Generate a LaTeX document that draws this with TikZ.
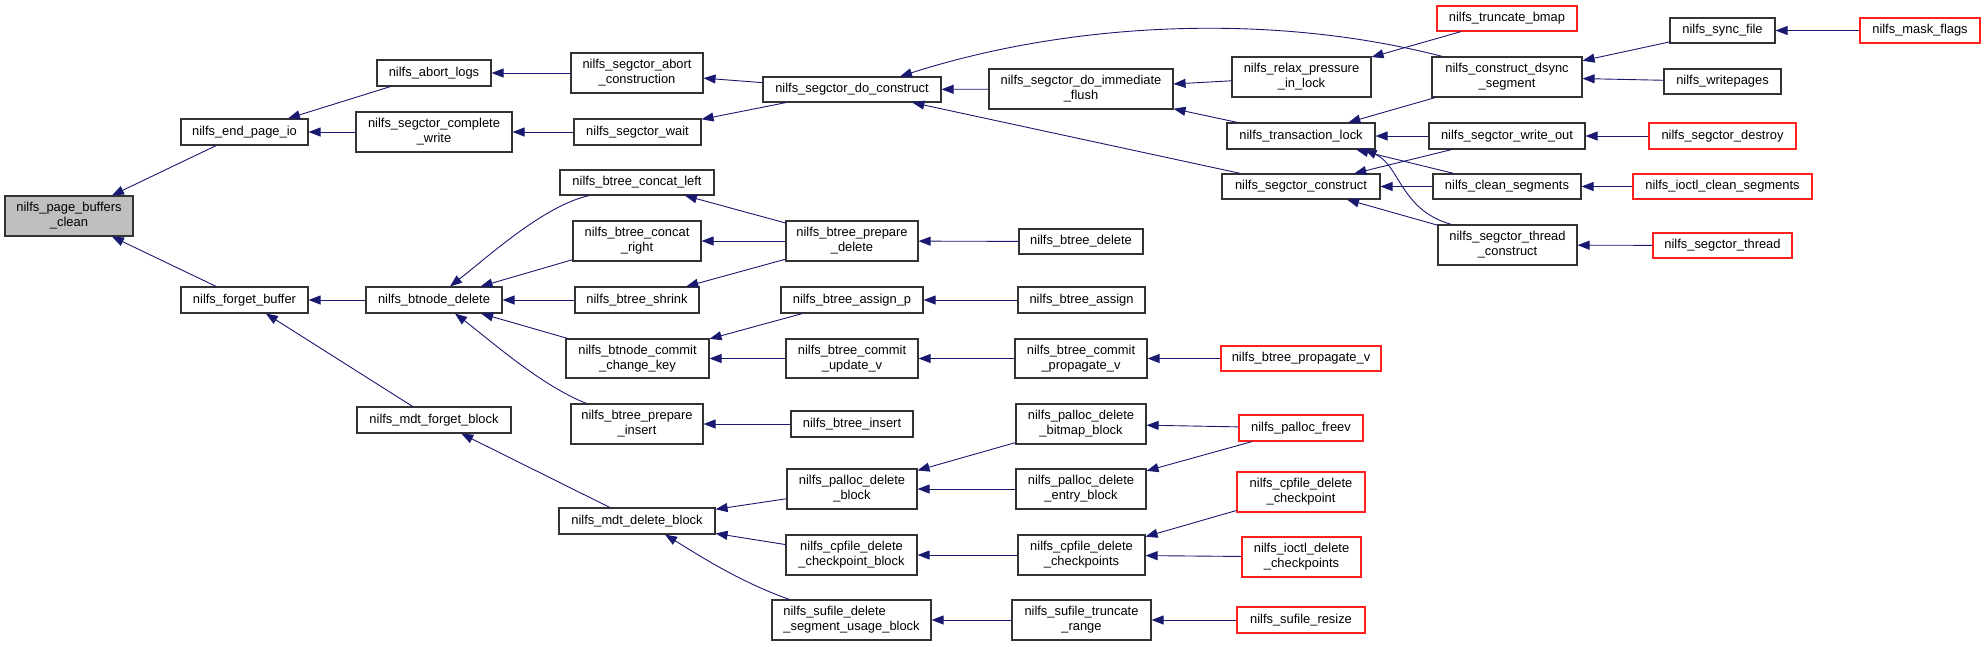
\documentclass[tikz,border=0pt]{standalone}
\usepackage{fontspec}
\setmainfont{Liberation Sans}
\usetikzlibrary{arrows.meta}
\definecolor{edgecol}{HTML}{191970}
\definecolor{boxgray}{HTML}{BFBFBF}
\definecolor{boxline}{HTML}{333333}
\definecolor{boxred}{HTML}{FF2020}
\tikzset{
  fn/.style={draw=boxline, line width=1.1pt, fill=white, inner sep=0pt, align=center,
    font=\fontsize{12.9}{15}\selectfont},
  fnred/.style={fn, draw=boxred},
  fngray/.style={fn, fill=boxgray},
  arr/.style={draw=edgecol, line width=0.9pt, {Triangle[length=12pt,width=9pt]}-},
}
\newcommand\fnode[7]{\node[#1, minimum width={#4-#2}, minimum height={#5-#3}] (#6) at ({(#2+#4)/2},{(#3+#5)/2}) {#7};}
\begin{document}
\begin{tikzpicture}[x=1pt,y=-1pt]
\useasboundingbox (0,0) rectangle (1985,646);
% column 0-1
\fnode{fngray}{5}{196}{133}{236}{pbc}{nilfs\_page\_buffers\\\_clean}
\fnode{fn}{181}{119}{308}{145}{epio}{nilfs\_end\_page\_io}
\fnode{fn}{181}{287}{308}{313}{fb}{nilfs\_forget\_buffer}
% column 2
\fnode{fn}{377}{60}{491}{86}{al}{nilfs\_abort\_logs}
\fnode{fn}{356}{112}{512}{152}{scw}{nilfs\_segctor\_complete\\\_write}
\fnode{fn}{366}{287}{502}{313}{bd}{nilfs\_btnode\_delete}
\fnode{fn}{357}{407}{511}{433}{mfb}{nilfs\_mdt\_forget\_block}
% column 3
\fnode{fn}{571}{53}{703}{93}{sac}{nilfs\_segctor\_abort\\\_construction}
\fnode{fn}{574}{119}{701}{145}{sw}{nilfs\_segctor\_wait}
\fnode{fn}{560}{170}{714}{195}{cl}{nilfs\_btree\_concat\_left}
\fnode{fn}{573}{221}{701}{261}{cr}{nilfs\_btree\_concat\\\_right}
\fnode{fn}{575}{287}{699}{313}{bs}{nilfs\_btree\_shrink}
\fnode{fn}{566}{339}{709}{378}{cck}{nilfs\_btnode\_commit\\\_change\_key}
\fnode{fn}{571}{404}{703}{444}{pi}{nilfs\_btree\_prepare\\\_insert}
\fnode{fn}{559}{508}{715}{534}{mdb}{nilfs\_mdt\_delete\_block}
% column 4
\fnode{fn}{763}{77}{941}{102}{dc}{nilfs\_segctor\_do\_construct}
\fnode{fn}{786}{221}{918}{261}{bpd}{nilfs\_btree\_prepare\\\_delete}
\fnode{fn}{781}{287}{923}{313}{bap}{nilfs\_btree\_assign\_p}
\fnode{fn}{786}{339}{918}{378}{cuv}{nilfs\_btree\_commit\\\_update\_v}
\fnode{fn}{791}{411}{913}{437}{bi}{nilfs\_btree\_insert}
\fnode{fn}{787}{469}{917}{509}{pdb}{nilfs\_palloc\_delete\\\_block}
\fnode{fn}{786}{535}{917}{575}{cdcb}{nilfs\_cpfile\_delete\\\_checkpoint\_block}
\fnode{fn,align=left}{772}{600}{931}{640}{sdsub}{nilfs\_sufile\_delete\\\_segment\_usage\_block}
% column 5
\fnode{fn}{989}{69}{1173}{109}{dif}{nilfs\_segctor\_do\_immediate\\\_flush}
\fnode{fn}{1019}{229}{1143}{254}{btd}{nilfs\_btree\_delete}
\fnode{fn}{1018}{287}{1145}{313}{ba}{nilfs\_btree\_assign}
\fnode{fn}{1015}{339}{1147}{378}{cpv}{nilfs\_btree\_commit\\\_propagate\_v}
\fnode{fn}{1016}{404}{1146}{444}{pdbb}{nilfs\_palloc\_delete\\\_bitmap\_block}
\fnode{fn}{1016}{469}{1146}{509}{pdeb}{nilfs\_palloc\_delete\\\_entry\_block}
\fnode{fn}{1018}{535}{1145}{575}{cdcs}{nilfs\_cpfile\_delete\\\_checkpoints}
\fnode{fn}{1012}{600}{1151}{640}{str}{nilfs\_sufile\_truncate\\\_range}
% column 6
\fnode{fn}{1232}{57}{1371}{97}{rpl}{nilfs\_relax\_pressure\\\_in\_lock}
\fnode{fn}{1227}{123}{1375}{149}{tl}{nilfs\_transaction\_lock}
\fnode{fn}{1222}{174}{1380}{199}{sc}{nilfs\_segctor\_construct}
\fnode{fnred}{1221}{346}{1381}{371}{bpv}{nilfs\_btree\_propagate\_v}
\fnode{fnred}{1239}{415}{1363}{441}{pf}{nilfs\_palloc\_freev}
\fnode{fnred}{1237}{472}{1365}{512}{cdc}{nilfs\_cpfile\_delete\\\_checkpoint}
\fnode{fnred}{1242}{537}{1361}{577}{idc}{nilfs\_ioctl\_delete\\\_checkpoints}
\fnode{fnred}{1237}{607}{1365}{633}{sr}{nilfs\_sufile\_resize}
% column 7
\fnode{fnred}{1437}{6}{1577}{31}{tb}{nilfs\_truncate\_bmap}
\fnode{fn}{1432}{57}{1582}{97}{cds}{nilfs\_construct\_dsync\\\_segment}
\fnode{fn}{1429}{123}{1585}{149}{wo}{nilfs\_segctor\_write\_out}
\fnode{fn}{1433}{174}{1581}{199}{cs}{nilfs\_clean\_segments}
\fnode{fn}{1438}{225}{1577}{265}{stc}{nilfs\_segctor\_thread\\\_construct}
% column 8-9
\fnode{fn}{1670}{18}{1775}{43}{sf}{nilfs\_sync\_file}
\fnode{fn}{1664}{69}{1781}{94}{wp}{nilfs\_writepages}
\fnode{fnred}{1649}{123}{1796}{149}{sd}{nilfs\_segctor\_destroy}
\fnode{fnred}{1633}{174}{1812}{199}{ics}{nilfs\_ioctl\_clean\_segments}
\fnode{fnred}{1653}{233}{1792}{258}{st}{nilfs\_segctor\_thread}
\fnode{fnred}{1860}{18}{1980}{43}{mf}{nilfs\_mask\_flags}
% edges
\draw[arr] (pbc) -- (epio);
\draw[arr] (pbc) -- (fb);
\draw[arr] (epio) -- (al);
\draw[arr] (epio) -- (scw);
\draw[arr] (al) -- (sac);
\draw[arr] (scw) -- (sw);
\draw[arr] (sac) -- (dc);
\draw[arr] (sw) -- (dc);
\draw[arr] ([xshift=48pt]dc.north) .. controls (1070,22) and (1270,12) .. ([xshift=11pt]cds.north west);
\draw[arr] (dc) -- (dif);
\draw[arr] (dc) -- (sc);
\draw[arr] (dif) -- (rpl);
\draw[arr] (dif) -- (tl);
\draw[arr] (rpl) -- (tb);
\draw[arr] (tl) -- (cds);
\draw[arr] (tl) -- (wo);
\draw[arr] (tl) -- (cs);
\draw[arr] ([xshift=-11pt]tl.south east) .. controls (1400,165) and (1400,210) .. ([xshift=14pt]stc.north west);
\draw[arr] (sc) -- (wo);
\draw[arr] (sc) -- (cs);
\draw[arr] (sc) -- (stc);
\draw[arr] (cds) -- (sf);
\draw[arr] (cds) -- (wp);
\draw[arr] (sf) -- (mf);
\draw[arr] (wo) -- (sd);
\draw[arr] (cs) -- (ics);
\draw[arr] (stc) -- (st);
\draw[arr] (fb) -- (bd);
\draw[arr] (fb) -- (mfb);
\draw[arr] ([xshift=16pt]bd.north) .. controls (490,255) and (545,205) .. ([xshift=30pt]cl.south west);
\draw[arr] (bd) -- (cr);
\draw[arr] (bd) -- (bs);
\draw[arr] (bd) -- (cck);
\draw[arr] ([xshift=21pt]bd.south) .. controls (490,340) and (540,385) .. ([xshift=16pt]pi.north west);
\draw[arr] (cl) -- (bpd);
\draw[arr] (cr) -- (bpd);
\draw[arr] (bs) -- (bpd);
\draw[arr] (bpd) -- (btd);
\draw[arr] (cck) -- (bap);
\draw[arr] (cck) -- (cuv);
\draw[arr] (bap) -- (ba);
\draw[arr] (cuv) -- (cpv);
\draw[arr] (cpv) -- (bpv);
\draw[arr] (pi) -- (bi);
\draw[arr] (mfb) -- (mdb);
\draw[arr] (mdb) -- (pdb);
\draw[arr] (mdb) -- (cdcb);
\draw[arr] ([xshift=28pt]mdb.south) .. controls (700,556) and (740,582) .. ([xshift=18pt]sdsub.north west);
\draw[arr] (pdb) -- (pdbb);
\draw[arr] (pdb) -- (pdeb);
\draw[arr] (pdbb) -- (pf);
\draw[arr] (pdeb) -- (pf);
\draw[arr] (cdcb) -- (cdcs);
\draw[arr] (cdcs) -- (cdc);
\draw[arr] (cdcs) -- (idc);
\draw[arr] (sdsub) -- (str);
\draw[arr] (str) -- (sr);
\end{tikzpicture}
\end{document}
